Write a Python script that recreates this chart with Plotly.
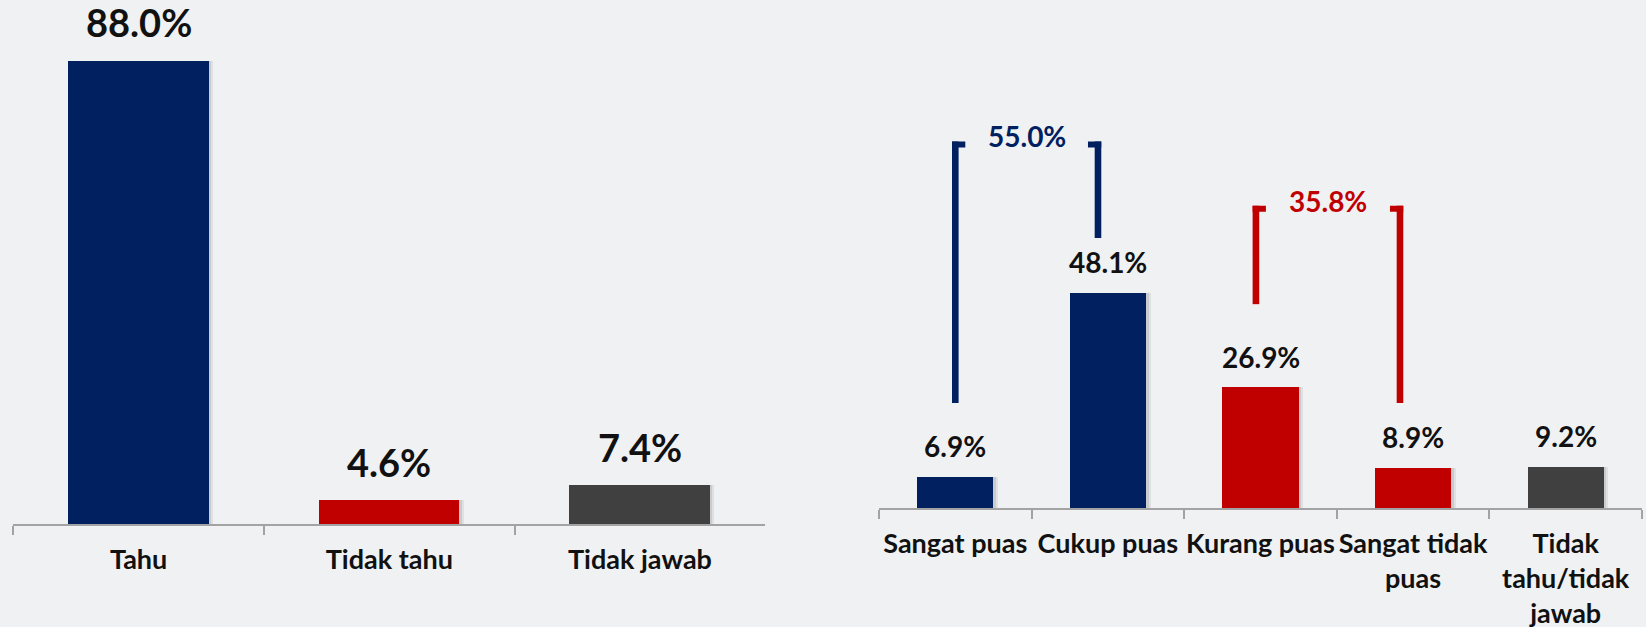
import plotly.graph_objects as go

# ---------------- data ----------------
know_categories = ["Tahu", "Tidak tahu", "Tidak jawab"]
know_values = [88.0, 4.6, 7.4]

sat_categories = ["Sangat puas", "Cukup puas", "Kurang puas",
                  "Sangat tidak puas", "Tidak tahu/tidak jawab"]
sat_ticktext = ["Sangat puas", "Cukup puas", "Kurang puas",
                "Sangat tidak<br>puas", "Tidak<br>tahu/tidak<br>jawab"]
sat_values = [6.9, 48.1, 26.9, 8.9, 9.2]

# groups summed for the brackets (indices into sat_*)
satisfied_group = [0, 1]
dissatisfied_group = [2, 3]

# ---------------- style ----------------
NAVY = "#002060"
RED = "#C00000"
GREY = "#404040"
know_colors = [NAVY, RED, GREY]
sat_colors = [NAVY, NAVY, RED, RED, GREY]
BG = "#f0f1f3"
AXIS = "#a3a3a3"
FONT = "Lato, 'Open Sans', sans-serif"
TXT = "#111111"

W, H = 1646, 627

# left panel geometry (pixels)
L_X0, L_X1 = 13.3, 765.3
L_BASE = 103.0          # zero line, px from bottom
L_SCALE = 5.27          # px per percentage point
L_RANGE = 98
# right panel geometry
R_X0, R_X1 = 879.0, 1642.0
R_BASE = 119.0
R_SCALE = 4.47
R_RANGE = 110

L_CAT = (L_X1 - L_X0) / len(know_categories)
R_CAT = (R_X1 - R_X0) / len(sat_categories)

fig = go.Figure()

# soft shadows behind bars
for k, a in ((4.5, 0.07), (2.5, 0.09)):
    fig.add_trace(go.Bar(
        x=know_categories, y=know_values, xaxis="x", yaxis="y",
        width=0.56, offset=-0.28 + k / L_CAT,
        marker=dict(color=f"rgba(0,0,0,{a})", line=dict(width=0)),
        hoverinfo="skip", showlegend=False))
    fig.add_trace(go.Bar(
        x=sat_categories, y=sat_values, xaxis="x2", yaxis="y2",
        width=0.5, offset=-0.25 + k / R_CAT,
        marker=dict(color=f"rgba(0,0,0,{a})", line=dict(width=0)),
        hoverinfo="skip", showlegend=False))

# bars
fig.add_trace(go.Bar(
    x=know_categories, y=know_values, xaxis="x", yaxis="y",
    width=0.56, marker=dict(color=know_colors, line=dict(width=0)),
    showlegend=False))
fig.add_trace(go.Bar(
    x=sat_categories, y=sat_values, xaxis="x2", yaxis="y2",
    width=0.5, marker=dict(color=sat_colors, line=dict(width=0)),
    showlegend=False))

annotations = []
for c, v in zip(know_categories, know_values):
    annotations.append(dict(
        x=c, y=v, xref="x", yref="y", text=f"{v:.1f}%", showarrow=False,
        yanchor="middle", xanchor="center", yshift=38, borderpad=0,
        font=dict(family=FONT, size=38, color=TXT, weight=700)))
for c, v in zip(sat_categories, sat_values):
    annotations.append(dict(
        x=c, y=v, xref="x2", yref="y2", text=f"{v:.1f}%", showarrow=False,
        yanchor="middle", xanchor="center", yshift=31, borderpad=0,
        font=dict(family=FONT, size=28, color=TXT, weight=700)))

# brackets: (group, colour, left x, right x, top y, left bottom y, right bottom y)
brackets = [
    (satisfied_group, NAVY, 0.0, 0.935, 82.0, 23.5, 60.4),
    (dissatisfied_group, RED, 1.97, 2.914, 67.6, 45.6, 23.5),
]
shapes = []
for grp, col, xl, xr, top, bl, br in brackets:
    total = sum(sat_values[i] for i in grp)
    for xa, bottom, sdir in ((xl, bl, 1), (xr, br, -1)):
        shapes.append(dict(
            type="rect", xref="x2", yref="y2", xsizemode="pixel", xanchor=xa,
            x0=-3.3, x1=3.3, y0=bottom, y1=top,
            fillcolor=col, line=dict(width=0), layer="above"))
        x0, x1 = (-3.3, 10) if sdir > 0 else (-10, 3.3)
        shapes.append(dict(
            type="rect", xref="x2", yref="y2", xsizemode="pixel", xanchor=xa,
            ysizemode="pixel", yanchor=top, x0=x0, x1=x1, y0=0, y1=-6,
            fillcolor=col, line=dict(width=0), layer="above"))
    annotations.append(dict(
        x=(xl + xr) / 2, y=top, xref="x2", yref="y2", text=f"{total:.1f}%",
        showarrow=False, yanchor="middle", xanchor="center", yshift=5,
        borderpad=0,
        font=dict(family=FONT, size=28, color=col, weight=700)))

xaxis_common = dict(
    type="category", tickson="boundaries", ticks="outside", ticklen=9,
    tickwidth=1.5, tickcolor=AXIS, showline=True, linecolor=AXIS, linewidth=1.5,
    showgrid=False, zeroline=False, fixedrange=True, ticklabelstandoff=11,
    tickangle=0, automargin=False,
    tickfont=dict(family=FONT, size=27, color=TXT, weight=700))

fig.update_layout(
    width=W, height=H, margin=dict(l=0, r=0, t=0, b=0),
    paper_bgcolor=BG, plot_bgcolor="rgba(0,0,0,0)",
    barmode="overlay", bargap=0,
    xaxis=dict(xaxis_common, domain=[L_X0 / W, L_X1 / W], anchor="y",
               range=[-0.5, len(know_categories) - 0.5]),
    yaxis=dict(domain=[L_BASE / H, (L_BASE + L_RANGE * L_SCALE) / H],
               range=[0, L_RANGE], visible=False, anchor="x", automargin=False),
    xaxis2=dict(xaxis_common, domain=[R_X0 / W, R_X1 / W], anchor="y2",
                range=[-0.5, len(sat_categories) - 0.5],
                tickmode="array", tickvals=sat_categories, ticktext=sat_ticktext),
    yaxis2=dict(domain=[R_BASE / H, (R_BASE + R_RANGE * R_SCALE) / H],
                range=[0, R_RANGE], visible=False, anchor="x2", automargin=False),
    annotations=annotations, shapes=shapes,
    showlegend=False,
)

fig.write_html(
    "out.html", config={"displayModeBar": False},
    post_script=("document.body.style.margin='0';"
                 "document.body.style.overflow='hidden';"
                 f"document.body.style.background='{BG}';"))
